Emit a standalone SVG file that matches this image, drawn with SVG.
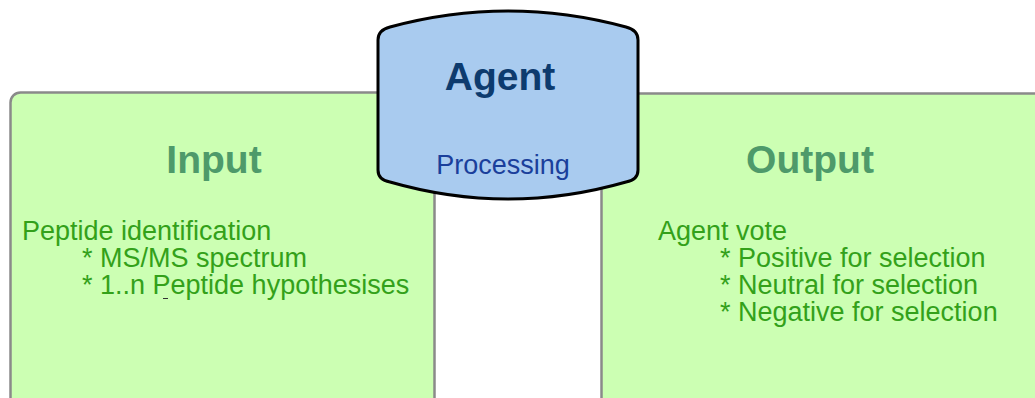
<svg xmlns="http://www.w3.org/2000/svg" width="1035" height="398" viewBox="0 0 1035 398">
<style>
.box{fill:#ccffb3;stroke:#8a8a8a;stroke-width:2.5}
.title{font-family:"Liberation Sans",Arial,sans-serif;font-weight:bold;font-size:39px;fill:#4e9a6a;text-anchor:middle}
.body{font-family:"Liberation Sans",Arial,sans-serif;font-size:27px;fill:#33a11a}
.agent{font-family:"Liberation Sans",Arial,sans-serif;font-weight:bold;font-size:39px;fill:#0d3b6e;text-anchor:middle}
.proc{font-family:"Liberation Sans",Arial,sans-serif;font-size:27px;fill:#1a3f9b;text-anchor:middle}
</style>
<g id="input">
<rect class="box" x="10.5" y="92.5" width="424" height="320" rx="10"/>
<text class="title" x="214" y="173">Input</text>
<text class="body" x="22" y="240">Peptide identification</text>
<text class="body" x="82" y="267">* MS/MS spectrum</text>
<text class="body" x="82" y="294">* 1..n Peptide hypothesises</text>
<line x1="163" y1="298.5" x2="168" y2="298.5" stroke="#333" stroke-width="1"/>
</g>
<g id="output">
<rect class="box" x="601.5" y="93.5" width="450" height="320" rx="10"/>
<text class="title" x="810" y="173">Output</text>
<text class="body" x="658" y="240">Agent vote</text>
<text class="body" x="720" y="267">* Positive for selection</text>
<text class="body" x="720" y="294">* Neutral for selection</text>
<text class="body" x="720" y="321">* Negative for selection</text>
</g>
<g id="connectors"></g>
<g id="agent">
<path d="M378,40 Q378,30 390,27 Q508,-5 626,27 Q638,30 638,40 L638,170 Q638,180 626,182 Q508,216 390,182 Q378,180 378,170 Z" fill="#a9cbef" stroke="#000" stroke-width="3"/>
<text class="agent" x="500" y="90">Agent</text>
<text class="proc" x="503" y="174">Processing</text>
</g>
</svg>
